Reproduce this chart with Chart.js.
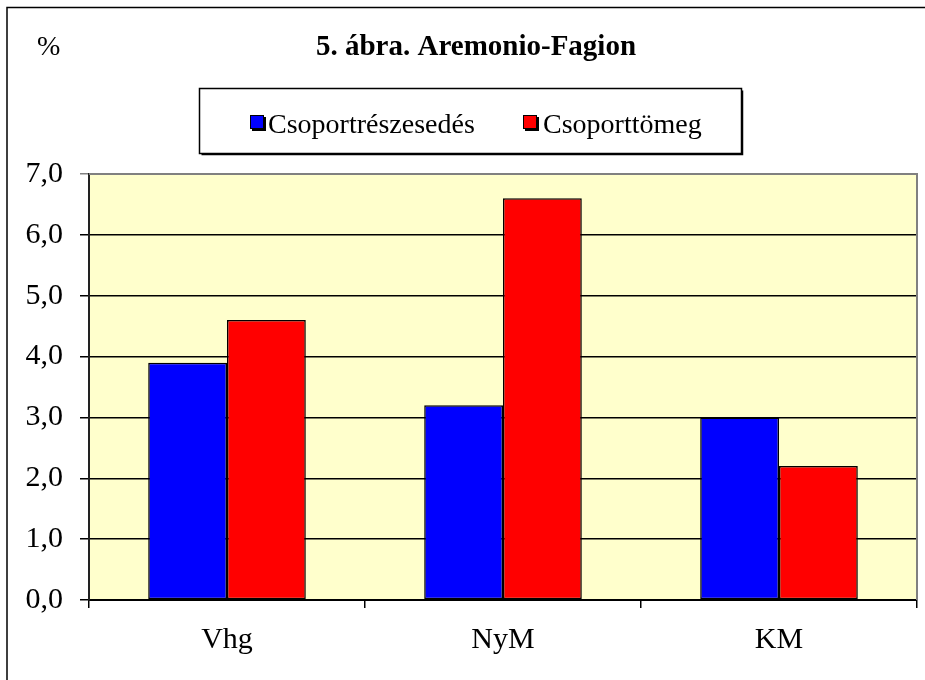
<!DOCTYPE html>
<html>
<head>
<meta charset="utf-8">
<script src="https://cdn.jsdelivr.net/npm/chart.js@4"></script>
<style>
html,body{margin:0;padding:0;background:#fff;}
#wrap{width:925px;height:680px;position:relative;}
</style>
</head>
<body>
<div id="wrap"><canvas id="c" width="925" height="680"></canvas></div>
<script>
const categories = ["Vhg", "NyM", "KM"];
const seriesNames = ["Csoportrészesedés", "Csoporttömeg"];
const csoportreszesedes = [3.9, 3.2, 3.0];
const csoporttomeg = [4.6, 6.6, 2.2];
const yTicks = [0, 1, 2, 3, 4, 5, 6, 7];
const titleText = "5. ábra. Aremonio-Fagion";
const unitText = "%";

const SERIF = "'Liberation Serif', 'Times New Roman', serif";

const decor = {
  id: 'decor',
  beforeDraw(chart) {
    const ctx = chart.ctx, a = chart.chartArea;
    ctx.save();
    ctx.fillStyle = '#fff';
    ctx.fillRect(0, 0, chart.width, chart.height);
    ctx.fillStyle = '#FFFFCC';
    ctx.fillRect(a.left, a.top, a.right - a.left, a.bottom - a.top);
    ctx.restore();
  },
  beforeDatasetsDraw(chart) {
    const ctx = chart.ctx, a = chart.chartArea;
    ctx.save();
    ctx.strokeStyle = '#808080';
    ctx.lineWidth = 2;
    ctx.beginPath();
    ctx.moveTo(a.left, a.top);
    ctx.lineTo(a.right, a.top);
    ctx.lineTo(a.right, a.bottom);
    ctx.stroke();
    ctx.restore();
  },
  afterDraw(chart) {
    const ctx = chart.ctx;
    ctx.save();
    // outer frame
    ctx.strokeStyle = '#000';
    ctx.lineWidth = 1.5;
    ctx.beginPath();
    ctx.moveTo(7, chart.height + 5);
    ctx.lineTo(7, 7.5);
    ctx.lineTo(chart.width + 5, 7.5);
    ctx.stroke();
    // title
    ctx.fillStyle = '#000';
    ctx.font = "bold 29px " + SERIF;
    ctx.textAlign = 'center';
    ctx.textBaseline = 'alphabetic';
    ctx.fillText(titleText, 476, 55);
    // unit
    ctx.font = "28px " + SERIF;
    ctx.textAlign = 'left';
    ctx.fillText(unitText, 37, 55);
    // legend box
    const bx = 199.5, by = 88.5, bw = 542, bh = 65;
    ctx.fillStyle = '#fff';
    ctx.fillRect(bx, by, bw, bh);
    ctx.strokeStyle = '#000';
    ctx.lineWidth = 1.5;
    ctx.strokeRect(bx, by, bw, bh);
    ctx.beginPath();
    ctx.moveTo(bx + 2, by + bh + 1);
    ctx.lineTo(bx + bw + 1, by + bh + 1);
    ctx.lineTo(bx + bw + 1, by + 2);
    ctx.stroke();
    const items = [{x: 250, tx: 268}, {x: 523, tx: 543}];
    ctx.font = "28px " + SERIF;
    chart.data.datasets.forEach((ds, i) => {
      const it = items[i];
      ctx.fillStyle = '#000';
      ctx.fillRect(it.x + 2, 117, 14, 14);
      ctx.fillStyle = ds.backgroundColor;
      ctx.fillRect(it.x, 115, 14, 14);
      ctx.strokeStyle = '#000';
      ctx.lineWidth = 1;
      ctx.strokeRect(it.x + 0.5, 115.5, 13, 13);
      ctx.fillStyle = '#000';
      ctx.textAlign = 'left';
      ctx.fillText(ds.label, it.tx, 133);
    });
    ctx.restore();
  }
};

new Chart(document.getElementById('c'), {
  type: 'bar',
  data: {
    labels: categories,
    datasets: [
      { label: seriesNames[0], data: csoportreszesedes, backgroundColor: '#0000FF', borderColor: '#000', borderWidth: 1.5, borderSkipped: false },
      { label: seriesNames[1], data: csoporttomeg, backgroundColor: '#FF0000', borderColor: '#000', borderWidth: 1.5, borderSkipped: false }
    ]
  },
  options: {
    responsive: false,
    animation: false,
    devicePixelRatio: 1,
    layout: { padding: { top: 174, right: 8, left: 0, bottom: 0 } },
    datasets: { bar: { categoryPercentage: 0.571, barPercentage: 1.0 } },
    plugins: { legend: { display: false }, title: { display: false }, tooltip: { enabled: false } },
    scales: {
      x: {
        offset: true,
        afterFit(s) { s.height = 80; },
        grid: { display: true, drawOnChartArea: false, drawTicks: true, tickLength: 8, color: '#000', lineWidth: 1.5, offset: true },
        border: { display: true, color: '#000', width: 2 },
        ticks: { color: '#000', font: { family: SERIF, size: 30 }, padding: 14 }
      },
      y: {
        min: 0, max: 7,
        afterFit(s) { s.width = 89; },
        afterBuildTicks(s) { s.ticks = yTicks.map(v => ({ value: v })); },
        grid: {
          color: (c) => (c.tick && c.tick.value === 7) ? '#808080' : '#000',
          lineWidth: 1.5, tickLength: 9, drawTicks: true
        },
        border: { display: true, color: '#222', width: 2 },
        ticks: {
          color: '#000', font: { family: SERIF, size: 30 }, padding: 17,
          callback: (v) => Number(v).toFixed(1).replace('.', ',')
        }
      }
    }
  },
  plugins: [decor]
});
</script>
</body>
</html>
